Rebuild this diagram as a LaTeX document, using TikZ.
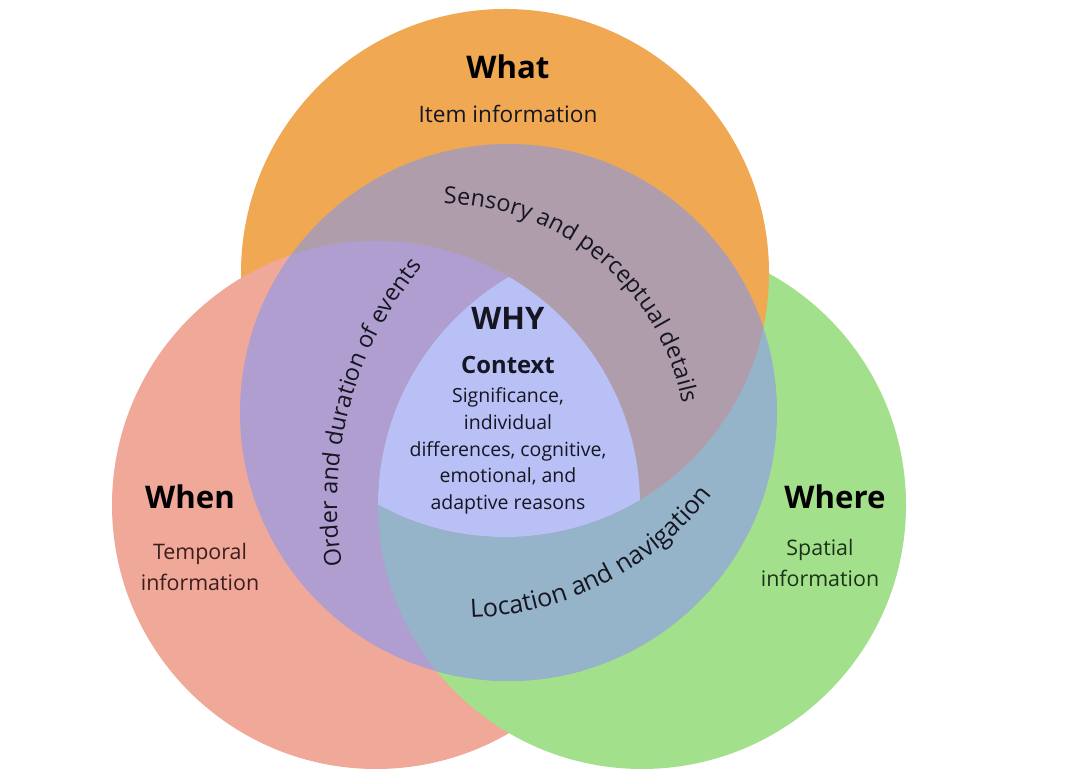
\documentclass[tikz,border=0pt]{standalone}
\usepackage{fontspec}
\setmainfont{Open Sans}
\usepackage{tikz}
\usetikzlibrary{decorations.text}
\definecolor{whatorange}{RGB}{240,168,82}
\definecolor{whensalmon}{RGB}{240,168,152}
\definecolor{wheregreen}{RGB}{163,224,140}
\definecolor{whymauve}{RGB}{176,157,172}
\definecolor{whypurple}{RGB}{176,158,208}
\definecolor{whyblue}{RGB}{149,179,201}
\definecolor{whycore}{RGB}{184,192,245}
\definecolor{txtdark}{RGB}{22,22,34}
\definecolor{txtwhen}{RGB}{60,30,30}
\definecolor{txtwhere}{RGB}{28,50,24}
\newcommand{\curvefont}{\fontsize{11.75}{14}\selectfont}
\newcommand{\curvefontbig}{\fontsize{12.6}{15}\selectfont}
\def\whatpath{(505,502) circle[radius=264]}
\def\whenpath{(376,270) circle[radius=264]}
\def\wherepath{(642,270) circle[radius=264]}
\def\whypath{(508.5,362.5) circle[radius=268.5]}
\tikzset{
  bigtitle/.style={font=\fontsize{15.6}{19}\selectfont\bfseries, text=black, inner sep=0pt},
  subtitle/.style={font=\fontsize{11.3}{15.5}\selectfont, align=center, text=txtdark, inner sep=0pt},
  sidetitle/.style={font=\fontsize{10.7}{15.5}\selectfont, align=center, inner sep=0pt},
  whytitle/.style={font=\fontsize{15.5}{18}\selectfont\bfseries, text=txtdark, inner sep=0pt},
  ctxtitle/.style={font=\fontsize{11.9}{14}\selectfont\bfseries, text=txtdark, inner sep=0pt},
  ctxbody/.style={font=\fontsize{9.75}{13.35}\selectfont, align=center, text=txtdark, inner sep=0pt},
  curvetext/.style={decorate, decoration={text along path, text align=center, text={|\color{txtdark}\curvefont|#1}}},
  curvetextbig/.style={decorate, decoration={text along path, text align=center, text={|\color{txtdark}\curvefontbig|#1}}}
}
\begin{document}
\begin{tikzpicture}[x=0.5pt, y=0.5pt]
  \useasboundingbox (0,0) rectangle (1080,775);

  % Outer circles
  \fill[whatorange] \whatpath;
  \fill[whensalmon] \whenpath;
  \fill[wheregreen] \wherepath;
  \begin{scope}
    \clip \wherepath;
    \fill[whatorange] \whatpath;
  \end{scope}

  % Why circle
  \begin{scope}
    \clip \whypath;
    \fill[whymauve] \whatpath;
    \fill[whypurple] \whenpath;
    \fill[whyblue] \wherepath;
    \begin{scope}
      \clip \wherepath;
      \fill[whymauve] \whatpath;
    \end{scope}
    % Core
    \begin{scope}
      \clip \whatpath;
      \clip \whenpath;
      \fill[whycore] \wherepath;
    \end{scope}
  \end{scope}

  % Labels
  \node[bigtitle] (what) at (508,708) {What};
  \node[subtitle] (whatinfo) at (508,661) {Item information};
  \node[bigtitle] (when) at (190,278) {When};
  \node[sidetitle, text=txtwhen] (wheninfo) at (200,208) {Temporal\\information};
  \node[bigtitle] (where) at (835,278) {Where};
  \node[sidetitle, text=txtwhere] (whereinfo) at (820,212) {Spatial\\information};
  \node[whytitle] (why) at (508,457) {WHY};
  \node[ctxtitle] (context) at (508,410) {Context};
  \node[ctxbody] (reasons) at (508,324) {Significance,\\individual\\differences, cognitive,\\emotional, and\\adaptive reasons};

  % Curved labels
  \path[curvetext={Sensory and perceptual details}]
    (442,327) ++(120:244) arc[start angle=120, end angle=-20, radius=244];
  \path[curvetext={Order and duration of events}]
    (711,271) ++(235:374) arc[start angle=235, end angle=95, radius=374];
  \path[curvetextbig={Location and navigation}]
    (460,477) ++(-133:320) arc[start angle=-133, end angle=7, radius=320];
\end{tikzpicture}
\end{document}
